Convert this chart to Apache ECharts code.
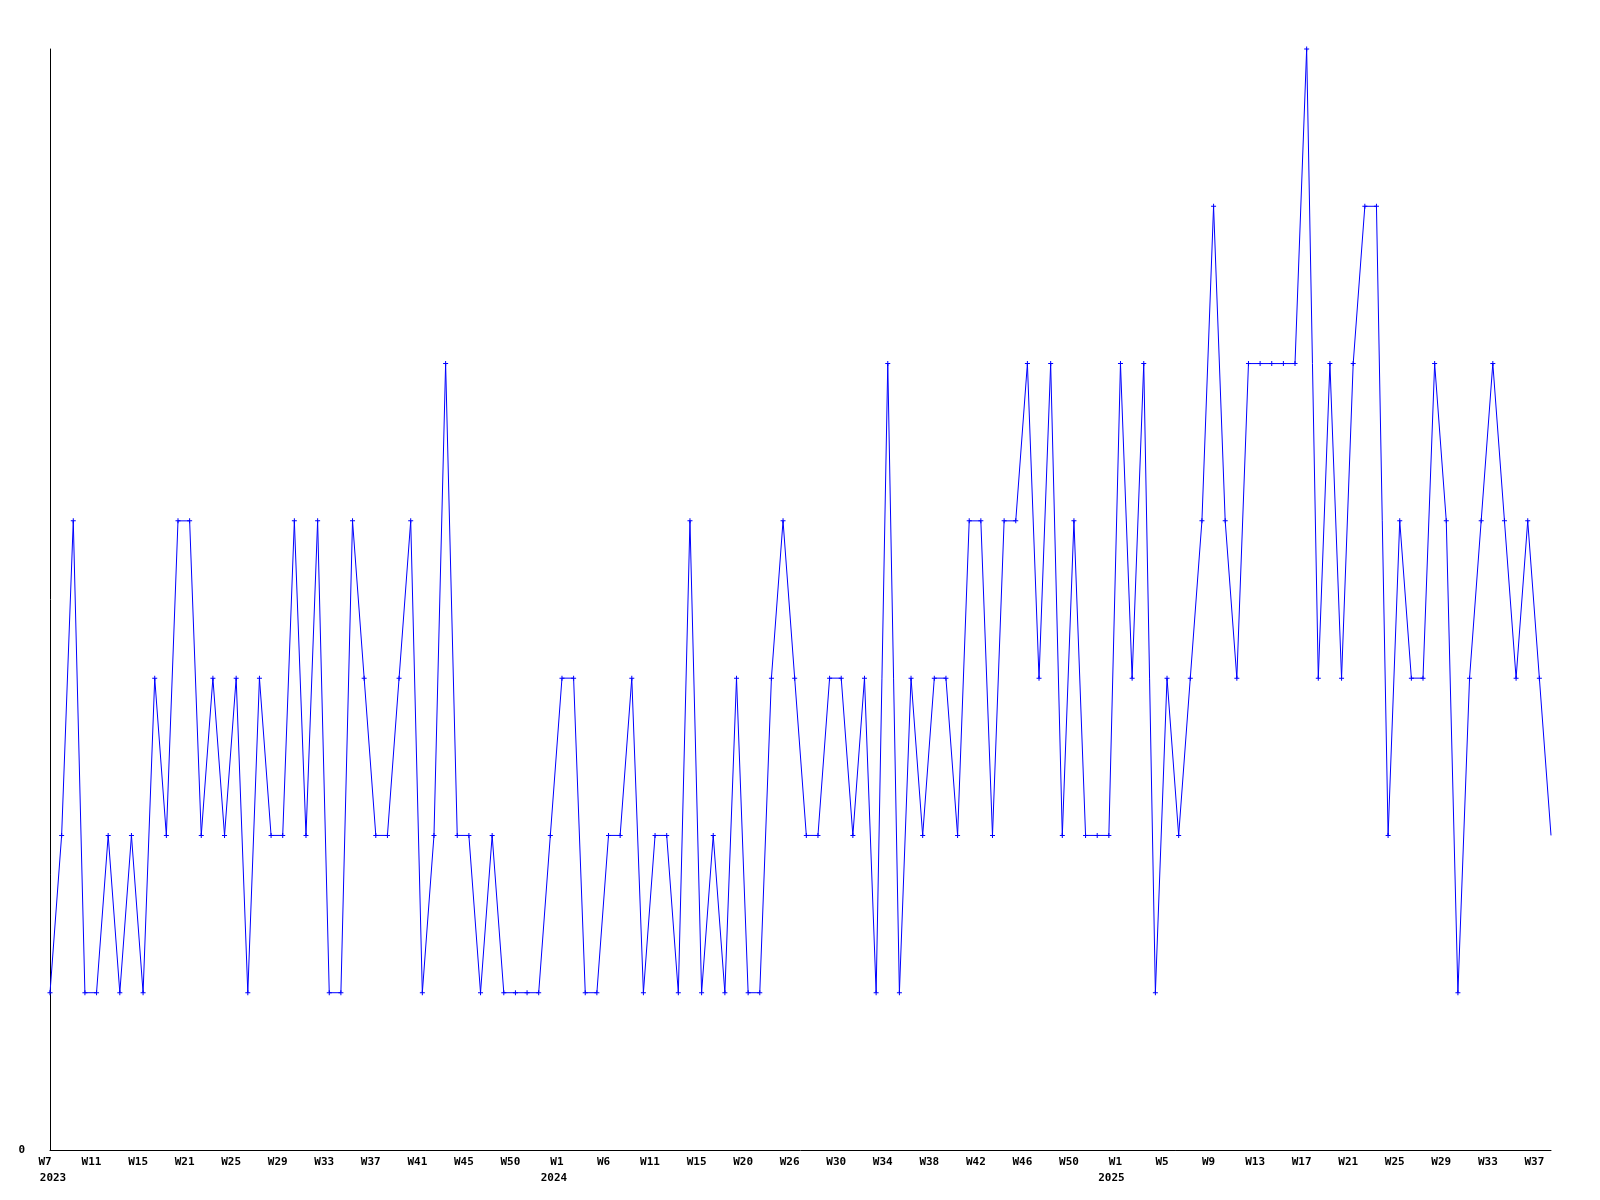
<!DOCTYPE html>
<html>
<head>
<meta charset="utf-8">
<script src="https://cdn.jsdelivr.net/npm/echarts@6/dist/echarts.min.js"></script>
<style>
html,body{margin:0;padding:0;background:#fff;}
#chart{width:1600px;height:1200px;}
</style>
</head>
<body>
<div id="chart"></div>
<script>
// Week categories (only every 4th label is drawn)
const weeks = [
  'W7','W8','W9','W10','W11','W12','W13','W14','W15','W17','W19','W20',
  'W21','W22','W23','W24','W25','W26','W27','W28','W29','W30','W31','W32',
  'W33','W34','W35','W36','W37','W38','W39','W40','W41','W42','W43','W44',
  'W45','W46','W47','W48','W50','W51','W52','W53',
  'W1','W2','W3','W5','W6','W7','W8','W10','W11','W12','W13','W14',
  'W15','W16','W17','W19','W20','W22','W23','W25','W26','W27','W28','W29',
  'W30','W31','W32','W33','W34','W35','W36','W37','W38','W39','W40','W41',
  'W42','W43','W44','W45','W46','W47','W48','W49','W50','W51','W52','W53',
  'W1','W2','W3','W4','W5','W6','W7','W8','W9','W10','W11','W12',
  'W13','W14','W15','W16','W17','W18','W19','W20','W21','W22','W23','W24',
  'W25','W26','W27','W28','W29','W30','W31','W32','W33','W34','W35','W36',
  'W37','W38'
];
// Year shown under the first week of each year (index into weeks)
const yearStarts = [0, 44, 92];
const yearNames = ['2023', '2024', '2025'];

const values = [
  1,2,4,1,1,2,1,2,1,3,2,4,4,2,3,2,3,1,3,2,2,4,2,4,1,1,4,3,2,2,3,4,1,2,5,
  2,2,1,2,1,1,1,1,2,3,3,1,1,2,2,3,1,2,2,1,4,1,2,1,3,1,1,3,4,3,2,
  2,3,3,2,3,1,5,1,3,2,3,3,2,4,4,2,4,4,5,3,5,2,4,2,2,2,5,3,5,1,3,2,3,4,
  6,4,3,5,5,5,5,5,7,3,5,3,5,6,6,2,4,3,3,5,4,1,3,4,5,4,3,4,3,2
];

const yTicks = ['0'];

const seriesData = values.map((v, i) =>
  i === values.length - 1 ? { value: v, symbol: 'none' } : v
);

const font = { fontFamily: 'DejaVu Sans Mono', fontWeight: 'bold', fontSize: 11, color: '#000', lineHeight: 16 };

const chart = echarts.init(document.getElementById('chart'));
chart.setOption({
  animation: false,
  backgroundColor: '#ffffff',
  grid: { left: 50, right: 49, top: 49, bottom: 50 },
  xAxis: {
    type: 'category',
    data: weeks,
    boundaryGap: false,
    axisLine: { lineStyle: { color: '#000', width: 1 } },
    axisTick: { show: false },
    splitLine: { show: false },
    axisLabel: Object.assign({
      interval: 3,
      margin: 4,
      formatter: function (val, idx) {
        const k = yearStarts.indexOf(idx);
        return k >= 0 ? '{w|' + val + '}\n{y' + k + '|' + yearNames[k] + '}' : '{w|' + val + '}';
      },
      rich: {
        w: Object.assign({ padding: [0, 10, 0, 0] }, font),
        y0: Object.assign({ padding: [0, 0, 0, 6] }, font),
        y1: Object.assign({ padding: [0, 16, 0, 0] }, font),
        y2: Object.assign({ padding: [0, 18, 0, 0] }, font)
      }
    }, font)
  },
  yAxis: {
    type: 'value',
    min: 0,
    max: 7,
    interval: 7,
    axisLine: { show: true, lineStyle: { color: '#000', width: 1 } },
    axisTick: { show: false },
    splitLine: { show: false },
    axisLabel: {
      margin: 25,
      color: '#000',
      fontFamily: 'DejaVu Sans Mono',
      fontWeight: 'bold',
      fontSize: 11,
      formatter: function (v) { return v === 0 ? yTicks[0] : ''; }
    }
  },
  series: [{
    type: 'line',
    data: seriesData,
    color: '#0000ff',
    lineStyle: { color: '#0000ff', width: 1 },
    itemStyle: { color: '#0000ff' },
    symbol: 'path://M2,0H3V2H5V3H3V5H2V3H0V2H2Z',
    symbolSize: 5,
    showSymbol: true,
    clip: false
  }]
});
</script>
</body>
</html>
